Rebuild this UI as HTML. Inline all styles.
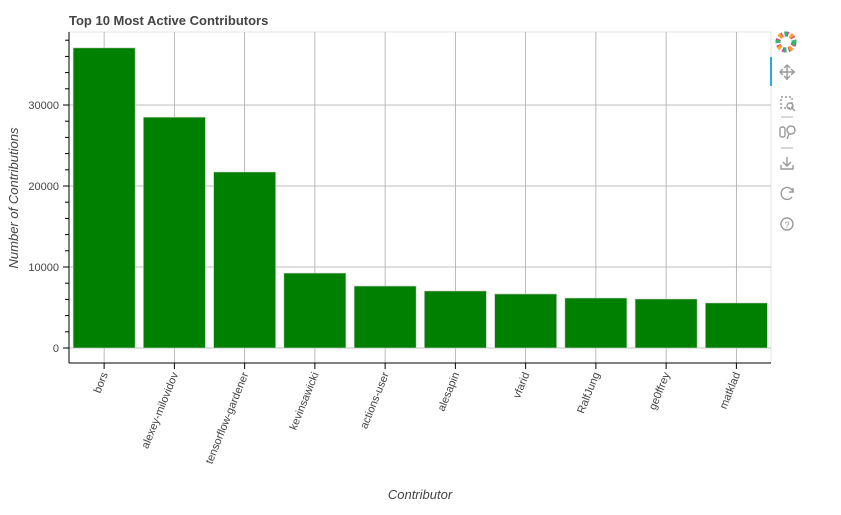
<!DOCTYPE html>
<html><head><meta charset="utf-8"><style>
body{margin:0;background:#fff;width:841px;height:510px;overflow:hidden;font-family:"Liberation Sans",sans-serif}
</style></head><body>
<svg id="chart" width="841" height="510" xmlns="http://www.w3.org/2000/svg">
<text x="69" y="25" font-size="13" font-weight="bold" fill="#444">Top 10 Most Active Contributors</text>
<g id="grid"></g><g id="bars"></g><g id="axes"></g>
<text transform="translate(18,198) rotate(-90)" text-anchor="middle" font-size="13" font-style="italic" fill="#444">Number of Contributions</text>
<text x="420" y="499" text-anchor="middle" font-size="13" font-style="italic" fill="#444">Contributor</text>
<g>
<line x1="771" y1="57" x2="771" y2="86" stroke="#26aae1" stroke-width="2"/>
<g transform="translate(786,42)">
<circle r="8" fill="none" stroke="#e0368c" stroke-width="5" stroke-dasharray="4 2"/>
<circle r="8" fill="none" stroke="#2eb872" stroke-width="5" stroke-dasharray="3 9"/>
<circle r="8" fill="none" stroke="#f6a623" stroke-width="5" stroke-dasharray="3 9" stroke-dashoffset="6"/></g>
<g stroke="#999" stroke-width="1.4" fill="none">
<g><path d="M787 65v15M780 72h15M784 68l3-3 3 3M784 76l3 3 3-3M783 69l-3 3 3 3M791 69l3 3-3 3"/></g>
<g><rect x="781" y="97" width="11" height="11" stroke-dasharray="2 2"/><circle cx="790" cy="106" r="3"/><path d="M792 108l3 3"/></g>
<path d="M781 117h12M781 148h12" stroke="#ccc"/>
<g><rect x="780" y="127" width="5" height="10" rx="2"/><circle cx="791" cy="130" r="4"/><path d="M789 134l-2 5"/></g>
<g><path d="M787 157v9M783 162l4 4 4-4M781 165v4h12v-4"/></g>
<g><path d="M793 192a6 6 0 1 0 -1 5M793 188v4h-4"/></g>
<g><circle cx="787" cy="224" r="6"/></g>
</g>
<text x="787" y="228" text-anchor="middle" font-size="9" fill="#999">?</text>
</g>
</svg>
<script>
const categories=["bors","alexey-milovidov","tensorflow-gardener","kevinsawicki","actions-user","alesapin","vfarid","RalfJung","ge0ffrey","matklad"];
const values=[37050,28500,21730,9250,7650,7040,6670,6170,6050,5560];
const yTicks=[0,10000,20000,30000];
const NS="http://www.w3.org/2000/svg";
const L=69,R=771,T=32,B=363;
const y0=348,pxPer=81/10000;
const ys=v=>y0-v*pxPer;
const band=70.25;
const xc=i=>69+band*(i+0.5);
function mk(p,t,a){const e=document.createElementNS(NS,t);for(const k in a)e.setAttribute(k,a[k]);p.appendChild(e);return e;}
const grid=document.getElementById('grid'),bars=document.getElementById('bars'),axes=document.getElementById('axes');
mk(grid,'rect',{x:L,y:T,width:R-L,height:B-T,fill:'none',stroke:'#e5e5e5'});
yTicks.forEach(v=>{const l=mk(grid,'line',{x1:L,x2:R,y1:ys(v),y2:ys(v),stroke:'#aaa','stroke-width':0.8});

});
categories.forEach((c,i)=>{const l=mk(grid,'line',{x1:xc(i),x2:xc(i),y1:T,y2:B,stroke:'#aaa','stroke-width':0.8});

});
values.forEach((v,i)=>{const w=62;const r=mk(bars,'rect',{x:xc(i)-w/2,y:ys(v),width:w,height:y0-ys(v),fill:'#008000',stroke:'#cfcfcf','stroke-width':0.6});

});
mk(axes,'line',{x1:L,x2:L,y1:T,y2:B,stroke:'#000'});
mk(axes,'line',{x1:L,x2:R,y1:B,y2:B,stroke:'#000'});
for(let v=0;ys(v)>=T;v+=2000){const maj=v%10000===0;mk(axes,'line',{x1:L-(maj?6:4),x2:L,y1:ys(v),y2:ys(v),stroke:'#000'});}
yTicks.forEach(v=>{const t=mk(axes,'text',{x:L-10,y:ys(v)+4,'text-anchor':'end','font-size':11,fill:'#444'});t.textContent=v;

});
categories.forEach((c,i)=>{mk(axes,'line',{x1:xc(i),x2:xc(i),y1:B,y2:B+6,stroke:'#000'});
const t=mk(axes,'text',{transform:`translate(${xc(i)+4},${B+11}) rotate(-68)`,'text-anchor':'end','font-size':11,fill:'#444'});t.textContent=c;

});
</script>
</body></html>
